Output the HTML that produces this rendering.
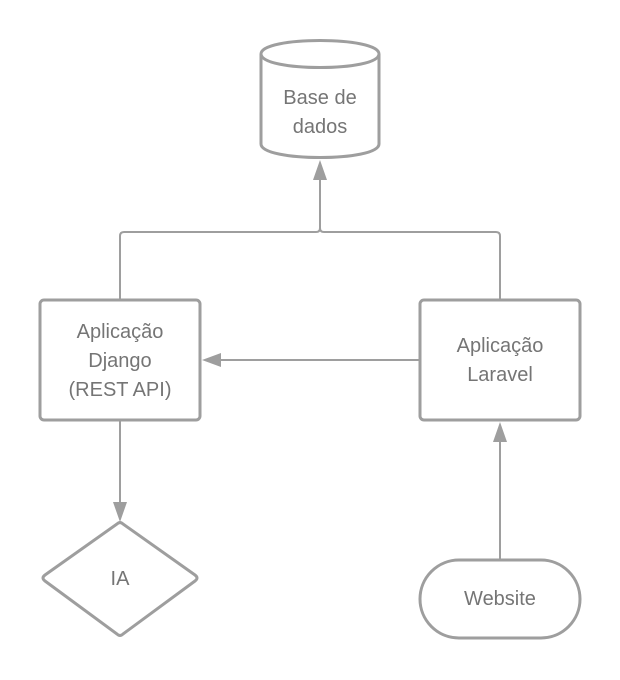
<!DOCTYPE html>
<html><head><style>
html,body{margin:0;padding:0;background:#fff;}
svg{display:block;}
text{font-family:"Liberation Sans",sans-serif;font-size:20px;fill:#757575;text-anchor:middle;}
</style></head><body>
<svg width="620" height="680" viewBox="0 0 620 680">
<g fill="none" stroke="#9e9e9e" stroke-width="2">
<path d="M120 300 V236 Q120 232 124 232 H316 Q320 232 320 228 V180"/>
<path d="M500 300 V236 Q500 232 496 232 H324 Q320 232 320 228"/>
<path d="M420 360 H218"/>
<path d="M120 420 V505"/>
<path d="M500 560 V440"/>
</g>
<g fill="#9e9e9e">
<path d="M320 160 L313 180 L327 180 Z"/>
<path d="M202 360 L221 353 L221 367 Z"/>
<path d="M120 522 L113 502 L127 502 Z"/>
<path d="M500 422 L493 442 L507 442 Z"/>
</g>
<g fill="#fff" stroke="#9e9e9e" stroke-width="3">
<path d="M261 54 C261 36 379 36 379 54 V144 C379 162 261 162 261 144 Z"/>
<path d="M261 54 C261 72 379 72 379 54" fill="none"/>
<rect x="40" y="300" width="160" height="120" rx="4"/>
<rect x="420" y="300" width="160" height="120" rx="4"/>
<path d="M117 524 Q120 521 123 524 L195 575 Q199 578 195 581 L123 634 Q120 637 117 634 L45 581 Q41 578 45 575 Z"/>
<rect x="420" y="560" width="160" height="78" rx="39"/>
</g>
<text x="320" y="104">Base de</text>
<text x="320" y="133">dados</text>
<text x="120" y="338">Aplicação</text>
<text x="120" y="367">Django</text>
<text x="120" y="396">(REST API)</text>
<text x="500" y="352">Aplicação</text>
<text x="500" y="381">Laravel</text>
<text x="120" y="585">IA</text>
<text x="500" y="605">Website</text>
</svg>
</body></html>
